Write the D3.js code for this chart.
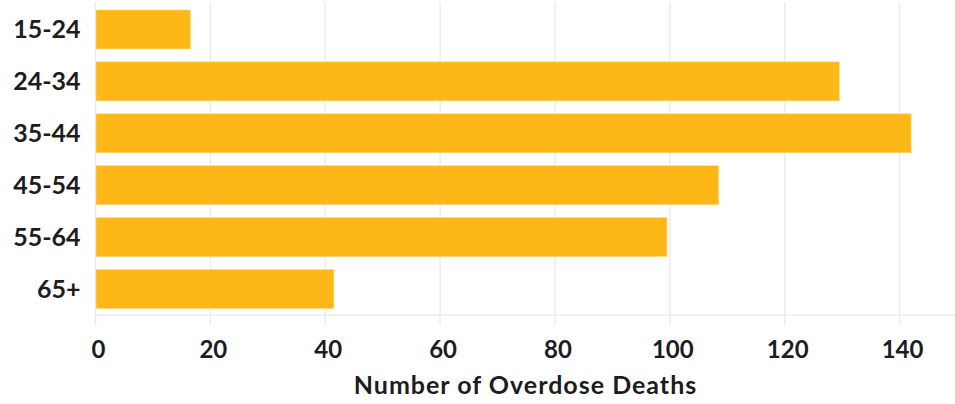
<!DOCTYPE html>
<html><head><meta charset="utf-8">
<script src="https://cdn.jsdelivr.net/npm/d3@7"></script>
<style>
html,body{margin:0;padding:0;background:#fff;}
svg text{font-family:Lato,"Open Sans",sans-serif;font-weight:bold;fill:#1c1c22;}
</style></head>
<body><svg id="c" width="955" height="404"></svg>
<script>
const categories = ["15-24","24-34","35-44","45-54","55-64","65+"];
const deaths = [16.5, 129.5, 142, 108.5, 99.5, 41.5];
const xTicks = [0,20,40,60,80,100,120,140];
const xTitle = "Number of Overdose Deaths";

const svg = d3.select("#c");
const x = d3.scaleLinear().domain([0,150]).range([95.5, 957]);
const y = d3.scaleBand().domain(categories).range([3.5, 315]).paddingInner(0.25).paddingOuter(0.125);

// gridlines
svg.append("g").selectAll("line").data(xTicks).join("line")
  .attr("x1", d=>x(d)).attr("x2", d=>x(d)).attr("y1", 2).attr("y2", 325)
  .attr("stroke", "#ececec").attr("stroke-width", 1.5);
// baseline
svg.append("line").attr("x1", x(0)).attr("x2", 955).attr("y1", 315).attr("y2", 315)
  .attr("stroke", "#ececec").attr("stroke-width", 1.5);

// bars
svg.append("g").selectAll("rect").data(categories).join("rect")
  .attr("x", x(0)+0.5).attr("y", d=>y(d))
  .attr("width", (d,i)=>x(deaths[i])-x(0)-0.5).attr("height", y.bandwidth())
  .attr("fill", "#fdb817").attr("stroke","#fdd77a").attr("stroke-width",0.6);

// y labels
svg.append("g").selectAll("text").data(categories).join("text")
  .attr("x", 80.5).attr("y", d=>y(d)+y.bandwidth()/2).attr("dy","0.35em")
  .attr("text-anchor","end").attr("font-size", 25).text(d=>d);

// x tick labels
svg.append("g").selectAll("text").data(xTicks).join("text")
  .attr("x", d=>x(d)+3).attr("y", 350).attr("dy","0.35em")
  .attr("text-anchor","middle").attr("font-size", 24).text(d=>d);

// x title
svg.append("text").attr("x", 525.5).attr("y", 385).attr("dy","0.35em")
  .attr("text-anchor","middle").attr("font-size", 25).attr("letter-spacing", 1).text(xTitle);
</script></body></html>
